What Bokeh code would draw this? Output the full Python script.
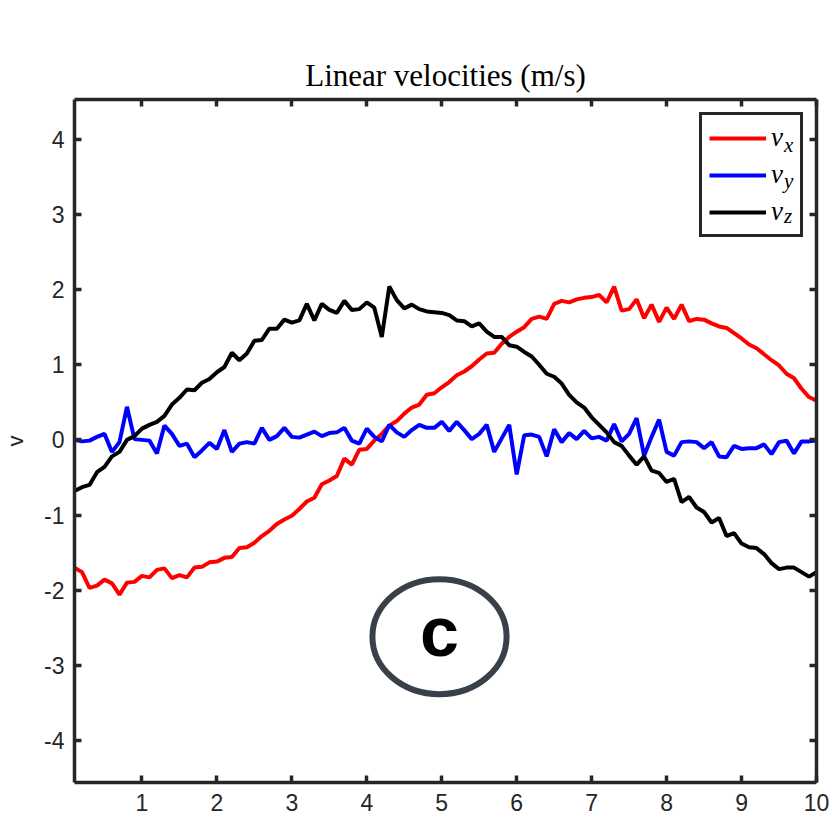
import numpy as np
from bokeh.plotting import figure
from bokeh.models import (Range1d, LinearAxis, FixedTicker, Legend, LegendItem, Label)
from bokeh.core.properties import value
from bokeh.embed import file_html
from bokeh.resources import INLINE

# ---------------- data ----------------
t = [round(0.1 * k, 1) for k in range(1, 101)]

vx = [-1.70, -1.76, -1.97, -1.94, -1.86, -1.91, -2.06, -1.90, -1.89, -1.81,
      -1.83, -1.73, -1.71, -1.84, -1.80, -1.83, -1.70, -1.69, -1.63, -1.62,
      -1.57, -1.56, -1.44, -1.43, -1.37, -1.28, -1.21, -1.12, -1.06, -1.01,
      -0.92, -0.82, -0.77, -0.59, -0.54, -0.48, -0.25, -0.33, -0.13, -0.12,
      -0.01, 0.08, 0.19, 0.25, 0.35, 0.43, 0.47, 0.60, 0.62, 0.70,
      0.77, 0.86, 0.91, 0.98, 1.07, 1.15, 1.16, 1.28, 1.37, 1.44,
      1.50, 1.61, 1.64, 1.61, 1.81, 1.85, 1.83, 1.87, 1.89, 1.90,
      1.93, 1.83, 2.04, 1.72, 1.74, 1.87, 1.62, 1.80, 1.57, 1.76,
      1.61, 1.80, 1.58, 1.61, 1.60, 1.55, 1.51, 1.49, 1.42, 1.35,
      1.27, 1.22, 1.14, 1.06, 0.99, 0.88, 0.82, 0.68, 0.57, 0.52]

vy = [0.00, -0.02, -0.01, 0.04, 0.08, -0.16, -0.03, 0.44, 0.01, 0.00,
      -0.01, -0.18, 0.19, 0.08, -0.08, -0.05, -0.23, -0.14, -0.04, -0.12,
      0.13, -0.16, -0.05, -0.03, -0.05, 0.16, 0.00, 0.05, 0.16, 0.04,
      0.03, 0.07, 0.11, 0.05, 0.09, 0.10, 0.16, -0.01, -0.05, 0.15,
      0.04, -0.02, 0.20, 0.10, 0.04, 0.13, 0.20, 0.16, 0.16, 0.24,
      0.12, 0.24, 0.13, 0.01, 0.08, 0.20, -0.16, 0.02, 0.20, -0.46,
      0.06, 0.07, 0.04, -0.22, 0.14, -0.03, 0.09, 0.01, 0.12, 0.02,
      0.04, -0.01, 0.21, -0.02, 0.08, 0.29, -0.21, 0.04, 0.27, -0.16,
      -0.21, -0.03, -0.02, -0.03, -0.11, -0.03, -0.22, -0.23, -0.08, -0.12,
      -0.11, -0.11, -0.06, -0.19, -0.03, -0.01, -0.18, -0.02, -0.02, -0.01]

vz = [-0.68, -0.63, -0.60, -0.43, -0.36, -0.22, -0.16, 0.00, 0.05, 0.15,
      0.20, 0.24, 0.32, 0.47, 0.56, 0.67, 0.66, 0.76, 0.81, 0.90,
      0.97, 1.16, 1.06, 1.15, 1.32, 1.33, 1.48, 1.48, 1.60, 1.56,
      1.59, 1.81, 1.59, 1.81, 1.73, 1.69, 1.85, 1.73, 1.74, 1.83,
      1.76, 1.37, 2.04, 1.86, 1.75, 1.80, 1.74, 1.71, 1.70, 1.69,
      1.66, 1.59, 1.58, 1.51, 1.55, 1.44, 1.37, 1.37, 1.26, 1.24,
      1.17, 1.11, 1.00, 0.88, 0.84, 0.75, 0.60, 0.50, 0.43, 0.30,
      0.20, 0.10, -0.03, -0.08, -0.21, -0.33, -0.22, -0.41, -0.44, -0.56,
      -0.52, -0.83, -0.76, -0.90, -0.96, -1.10, -1.04, -1.28, -1.24, -1.38,
      -1.43, -1.44, -1.52, -1.64, -1.72, -1.70, -1.70, -1.76, -1.82, -1.76]

series_names = ["v", "v", "v"]
series_subs = ["x", "y", "z"]
series_colors = ["#ff0000", "#0000ff", "#000000"]

x_ticks = [1, 2, 3, 4, 5, 6, 7, 8, 9, 10]
y_ticks = [-4, -3, -2, -1, 0, 1, 2, 3, 4]
title_text = "Linear velocities (m/s)"
y_label = "v"
badge_text = "c"

# ---------------- figure ----------------
AX = "#262626"
p = figure(width=832, height=831, output_backend="svg", toolbar_location=None,
           x_range=Range1d(0.1, 10.0), y_range=Range1d(-4.56, 4.53),
           min_border_left=74, min_border_right=16, min_border_top=99,
           min_border_bottom=49)
p.background_fill_color = "white"
p.border_fill_color = "white"
p.outline_line_color = None
p.xgrid.visible = False
p.ygrid.visible = False

p.title.text = title_text
p.title.text_font = "Liberation Serif"
p.title.text_font_size = "31px"
p.title.text_font_style = "normal"
p.title.text_color = "black"
p.title.align = "center"
p.title.standoff = 14

def style_axis(ax, ticks, labels=True):
    ax.ticker = FixedTicker(ticks=ticks)
    ax.axis_line_color = AX
    ax.axis_line_width = 3.5
    ax.major_tick_line_color = AX
    ax.major_tick_line_width = 3.5
    ax.major_tick_in = 7
    ax.major_tick_out = 0
    ax.minor_tick_line_color = None
    if labels:
        ax.major_label_text_font = "Liberation Sans"
        ax.major_label_text_font_size = "23px"
        ax.major_label_text_color = AX
        ax.major_label_overrides = {v: str(v) for v in ticks}
    else:
        ax.major_label_overrides = {v: "" for v in ticks}
        ax.major_label_text_font_size = "1px"
        ax.major_label_standoff = 0

style_axis(p.xaxis[0], x_ticks)
p.xaxis[0].major_label_standoff = 11
style_axis(p.yaxis[0], y_ticks)
p.yaxis[0].major_label_standoff = 10
p.yaxis[0].axis_label = y_label
p.yaxis[0].axis_label_text_font = "Liberation Sans"
p.yaxis[0].axis_label_text_font_style = "normal"
p.yaxis[0].axis_label_text_font_size = "22px"
p.yaxis[0].axis_label_text_color = AX
p.yaxis[0].axis_label_standoff = 13

top_ax = LinearAxis()
style_axis(top_ax, x_ticks, labels=False)
p.add_layout(top_ax, "above")
right_ax = LinearAxis()
style_axis(right_ax, y_ticks, labels=False)
p.add_layout(right_ax, "right")

# ---------------- lines ----------------
renderers = []
for ys, c in zip([vx, vy, vz], series_colors):
    r = p.line(t, ys, line_color=c, line_width=4)
    renderers.append(r)

# subscripts of the legend labels (drawn under a transparent legend box)
sub_x = 9.565
sub_y = [3.925, 3.445, 2.975]
for s, yy in zip(series_subs, sub_y):
    p.add_layout(Label(x=sub_x, y=yy, text=s, text_font="Liberation Serif",
                       text_font_style="italic", text_font_size="21px",
                       text_color="black", text_baseline="alphabetic"))

legend = Legend(items=[LegendItem(label=n, renderers=[r]) for n, r in zip(series_names, renderers)],
                location="top_right", margin=13, padding=7, spacing=6,
                glyph_width=57, glyph_height=28, label_height=28, label_width=22,
                label_standoff=5,
                label_text_font="Liberation Serif", label_text_font_style="italic",
                label_text_font_size="27px", label_text_color="black",
                border_line_color=AX, border_line_width=3.5, border_line_alpha=1.0,
                background_fill_color="white", background_fill_alpha=0.0)
p.add_layout(legend, "center")

# ---------------- badge ----------------
badge_x = 4.97
badge_y = -2.62
p.ellipse(x=[badge_x], y=[badge_y], width=1.79, height=1.53,
          fill_color=None, line_color="#3a404a", line_width=6)
p.text(x=[badge_x], y=[-2.556], text=[badge_text], text_font=value("Liberation Sans"),
       text_font_style="bold", text_font_size="70px", text_align="center",
       text_baseline="middle", text_color="black")

open("out.html", "w").write(file_html(p, INLINE))
